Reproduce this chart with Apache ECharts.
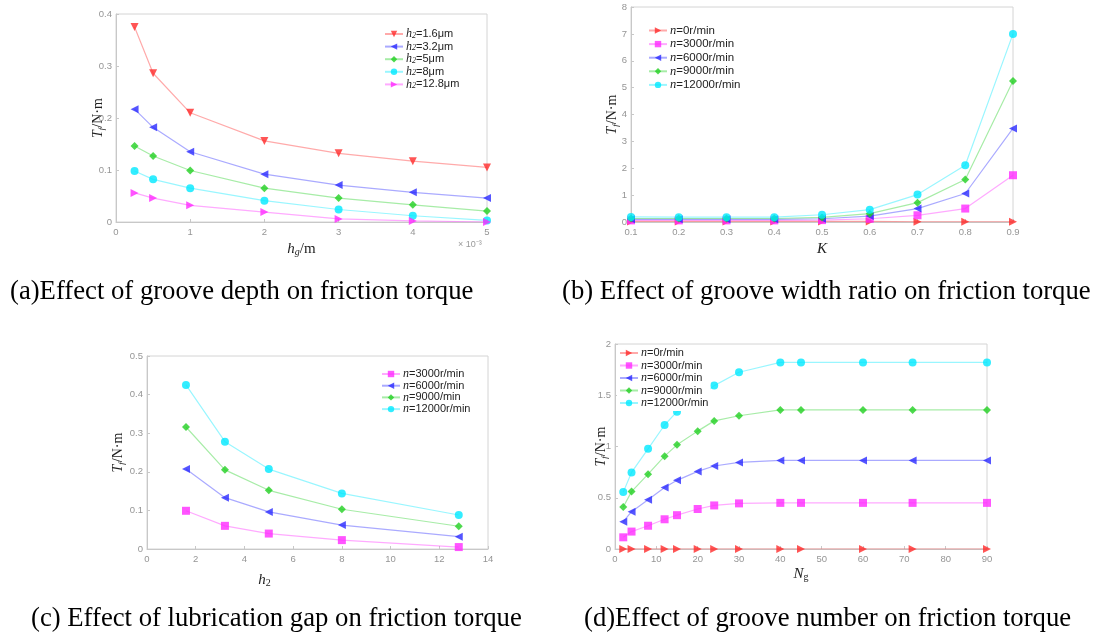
<!DOCTYPE html>
<html><head><meta charset="utf-8">
<script src="https://cdn.jsdelivr.net/npm/echarts@6/dist/echarts.min.js"></script>
<style>html,body{margin:0;padding:0;background:#fff}#c{width:1099px;height:634px}</style>
</head><body><div id="c"></div>
<script>
// (a) groove depth (x in 1e-3 m)
const aX = [0.25, 0.5, 1, 2, 3, 4, 5];
const aH16 = [0.375, 0.286, 0.210, 0.156, 0.132, 0.117, 0.105];
const aH32 = [0.217, 0.182, 0.135, 0.092, 0.071, 0.057, 0.046];
const aH5 = [0.146, 0.127, 0.099, 0.065, 0.046, 0.033, 0.021];
const aH8 = [0.098, 0.082, 0.065, 0.041, 0.024, 0.012, 0.003];
const aH128 = [0.056, 0.046, 0.032, 0.019, 0.006, 0.002, 0.000];
// (b) groove width ratio K
const bX = [0.1, 0.2, 0.3, 0.4, 0.5, 0.6, 0.7, 0.8, 0.9];
const bN0 = [0.02, 0.02, 0.02, 0.02, 0.02, 0.02, 0.01, 0.01, 0.01];
const bN3000 = [0.06, 0.06, 0.06, 0.06, 0.07, 0.12, 0.25, 0.50, 1.74];
const bN6000 = [0.10, 0.10, 0.10, 0.10, 0.12, 0.22, 0.50, 1.06, 3.48];
const bN9000 = [0.13, 0.13, 0.13, 0.13, 0.17, 0.31, 0.72, 1.58, 5.25];
const bN12000 = [0.19, 0.18, 0.18, 0.18, 0.27, 0.46, 1.02, 2.11, 7.00];
// (c) lubrication gap h2
const cX = [1.6, 3.2, 5, 8, 12.8];
const cN3000 = [0.099, 0.060, 0.040, 0.023, 0.005];
const cN6000 = [0.207, 0.133, 0.096, 0.062, 0.032];
const cN9000 = [0.316, 0.205, 0.152, 0.103, 0.059];
const cN12000 = [0.425, 0.278, 0.207, 0.144, 0.088];
// (d) groove number Ng
const dX = [2, 4, 8, 12, 15, 20, 24, 30, 40, 45, 60, 72, 90];
const dN0 = [0, 0, 0, 0, 0, 0, 0, 0, 0, 0, 0, 0, 0];
const dN3000 = [0.114, 0.170, 0.227, 0.290, 0.330, 0.390, 0.425, 0.445, 0.450, 0.450, 0.450, 0.450, 0.450];
const dN6000 = [0.266, 0.364, 0.480, 0.600, 0.670, 0.757, 0.810, 0.845, 0.864, 0.864, 0.864, 0.864, 0.864];
const dN9000 = [0.410, 0.560, 0.730, 0.906, 1.016, 1.150, 1.250, 1.300, 1.357, 1.357, 1.357, 1.357, 1.357];
const dN12000 = [0.555, 0.747, 0.977, 1.210, 1.340, 1.470, 1.594, 1.724, 1.820, 1.820, 1.820, 1.820, 1.820];

const captions = [
  '(a)Effect of groove depth on friction torque',
  '(b) Effect of groove width ratio on friction torque',
  '(c) Effect of lubrication gap on friction torque',
  '(d)Effect of groove number on friction torque'
];

const C = {red:'#ff2a2a', blue:'#2a2aff', green:'#22d022', cyan:'#00e8ff', magenta:'#ff2aff'};
const SERIF = "'Liberation Serif','DejaVu Serif',serif";
const SANS = "'Liberation Sans','DejaVu Sans',sans-serif";

const labels = {};
function ser(id, label, xs, ys, idx, color, symbol, rot) {
  labels[id] = label;
  return {type:'line', name:id, xAxisIndex:idx, yAxisIndex:idx,
    data: xs.map((x,i)=>[x, ys[i]]), symbol:symbol, symbolRotate:rot||0, symbolSize:8,
    lineStyle:{color:color, width:1.2, opacity:0.4},
    itemStyle:{color:color, opacity:0.8}, color:color, animation:false};
}
const TRI_R = -90, TRI_L = 90, TRI_D = 180;
const series = [
  ser('a1','{i|h}{s|2}{r|=1.6μm}', aX, aH16, 0, C.red, 'triangle', TRI_D),
  ser('a2','{i|h}{s|2}{r|=3.2μm}', aX, aH32, 0, C.blue, 'triangle', TRI_L),
  ser('a3','{i|h}{s|2}{r|=5μm}', aX, aH5, 0, C.green, 'diamond'),
  ser('a4','{i|h}{s|2}{r|=8μm}', aX, aH8, 0, C.cyan, 'circle'),
  ser('a5','{i|h}{s|2}{r|=12.8μm}', aX, aH128, 0, C.magenta, 'triangle', TRI_R),
  ser('b1','{i|n}{r|=0r/min}', bX, bN0, 1, C.red, 'triangle', TRI_R),
  ser('b2','{i|n}{r|=3000r/min}', bX, bN3000, 1, C.magenta, 'rect'),
  ser('b3','{i|n}{r|=6000r/min}', bX, bN6000, 1, C.blue, 'triangle', TRI_L),
  ser('b4','{i|n}{r|=9000r/min}', bX, bN9000, 1, C.green, 'diamond'),
  ser('b5','{i|n}{r|=12000r/min}', bX, bN12000, 1, C.cyan, 'circle'),
  ser('c2','{i|n}{r|=3000r/min}', cX, cN3000, 2, C.magenta, 'rect'),
  ser('c3','{i|n}{r|=6000r/min}', cX, cN6000, 2, C.blue, 'triangle', TRI_L),
  ser('c4','{i|n}{r|=9000/min}', cX, cN9000, 2, C.green, 'diamond'),
  ser('c5','{i|n}{r|=12000r/min}', cX, cN12000, 2, C.cyan, 'circle'),
  ser('d1','{i|n}{r|=0r/min}', dX, dN0, 3, C.red, 'triangle', TRI_R),
  ser('d2','{i|n}{r|=3000r/min}', dX, dN3000, 3, C.magenta, 'rect'),
  ser('d3','{i|n}{r|=6000r/min}', dX, dN6000, 3, C.blue, 'triangle', TRI_L),
  ser('d4','{i|n}{r|=9000r/min}', dX, dN9000, 3, C.green, 'diamond'),
  ser('d5','{i|n}{r|=12000r/min}', dX, dN12000, 3, C.cyan, 'circle')
];

function legRich(fs) {
  return {
    i:{fontFamily:SERIF, fontStyle:'italic', fontSize:fs+1, color:'#222'},
    s:{fontFamily:SERIF, fontStyle:'italic', fontSize:8, color:'#222', verticalAlign:'bottom', padding:[5,0,0,0]},
    r:{fontFamily:SANS, fontSize:fs, color:'#222'}
  };
}
function leg(ids, left, top, gap, fs) {
  return {data:ids, orient:'vertical', left:left, top:top, itemWidth:18, itemHeight:8, itemGap:gap,
    backgroundColor:'#fff', padding:2, selectedMode:false,
    formatter:n=>labels[n], textStyle:{rich:legRich(fs||11), lineHeight:11, padding:[0,0,0,-2]}};
}

const gridStyle = {show:true, borderColor:'#d4d4d4', borderWidth:1, backgroundColor:'transparent'};
const grids = [
  Object.assign({left:116, top:14, width:371, height:208}, gridStyle),
  Object.assign({left:631, top:7, width:382, height:215}, gridStyle),
  Object.assign({left:147, top:356, width:341, height:193}, gridStyle),
  Object.assign({left:615, top:344, width:372, height:205}, gridStyle)
];

const axLine = {show:true, lineStyle:{color:'#c8c8c8'}};
const axTick = {show:true, inside:true, length:3, lineStyle:{color:'#c8c8c8'}};
const axLab = {color:'#959595', fontSize:9.5, fontFamily:SANS};
const yName = {
  name:'{t|T}{f|f}{n|/N·m}', nameLocation:'middle', nameRotate:90, nameMoveOverlap:false,
  nameTextStyle:{rich:{
    t:{fontFamily:SERIF, fontStyle:'italic', fontSize:14, color:'#222'},
    f:{fontFamily:SERIF, fontStyle:'italic', fontSize:9, color:'#222', verticalAlign:'bottom', padding:[6,0,0,0]},
    n:{fontFamily:SERIF, fontSize:14, color:'#222'}
  }}
};
function xa(idx, min, max, interval, name, gap, extra) {
  return Object.assign({type:'value', gridIndex:idx, min:min, max:max, interval:interval,
    axisLine:axLine, axisTick:axTick, axisLabel:Object.assign({margin:5}, axLab),
    splitLine:{show:false}, name:name, nameLocation:'middle', nameGap:gap, nameMoveOverlap:false,
    nameTextStyle:{rich:{
      i:{fontFamily:SERIF, fontStyle:'italic', fontSize:15, color:'#222'},
      s:{fontFamily:SERIF, fontSize:10, color:'#222', verticalAlign:'bottom', padding:[6,0,0,0]},
      si:{fontFamily:SERIF, fontStyle:'italic', fontSize:10, color:'#222', verticalAlign:'bottom', padding:[6,0,0,0]},
      n:{fontFamily:SERIF, fontSize:15, color:'#222'}
    }}}, extra||{});
}
function ya(idx, min, max, interval, gap, fmt) {
  return Object.assign({type:'value', gridIndex:idx, min:min, max:max, interval:interval,
    axisLine:axLine, axisTick:axTick, axisLabel:Object.assign({margin:4, formatter:fmt}, axLab),
    splitLine:{show:false}, nameGap:gap}, yName);
}

const capFont = "26.7px 'Liberation Serif'";
const option = {
  backgroundColor:'#fff',
  animation:false,
  grid:grids,
  xAxis:[
    xa(0, 0, 5, 1, '{i|h}{si|g}{n|/m}', 19),
    xa(1, 0.1, 0.9, 0.1, '{i|K}', 20, {axisLabel:Object.assign({margin:5, formatter:v=>v.toFixed(1)}, axLab)}),
    xa(2, 0, 14, 2, '{i|h}{s|2}', 23, {nameTextStyle:{padding:[0,106,0,0], rich:{
      i:{fontFamily:SERIF, fontStyle:'italic', fontSize:15, color:'#222'},
      s:{fontFamily:SERIF, fontSize:10, color:'#222', verticalAlign:'bottom', padding:[6,0,0,0]}}}}),
    xa(3, 0, 90, 10, '{i|N}{s|g}', 17)
  ],
  yAxis:[
    ya(0, 0, 0.4, 0.1, 10, v=>v===0?'0':v.toFixed(1)),
    ya(1, 0, 8, 1, 11),
    ya(2, 0, 0.5, 0.1, 21, v=>v===0?'0':v.toFixed(1)),
    ya(3, 0, 2, 0.5, 6)
  ],
  legend:[
    leg(['a1','a2','a3','a4','a5'], 382, 26, 0.6, 11),
    leg(['b1','b2','b3','b4','b5'], 646, 22, 0.6, 11.5),
    leg(['c2','c3','c4','c5'], 379, 366, -0.3, 11),
    leg(['d1','d2','d3','d4','d5'], 617, 345, 0.5, 11)
  ],
  series:series,
  graphic:[
    {type:'text', left:458, top:240, style:{text:'× 10⁻³', fill:'#9a9a9a', font:"9px 'Liberation Sans'"}},
    {type:'text', left:10, top:278, style:{text:captions[0], fill:'#000', font:capFont}},
    {type:'text', left:562, top:278, style:{text:captions[1], fill:'#000', font:capFont}},
    {type:'text', left:31, top:605, style:{text:captions[2], fill:'#000', font:capFont}},
    {type:'text', left:584, top:605, style:{text:captions[3], fill:'#000', font:capFont}}
  ]
};
const chart = echarts.init(document.getElementById('c'), null, {renderer:'canvas'});
chart.setOption(option);
</script></body></html>
